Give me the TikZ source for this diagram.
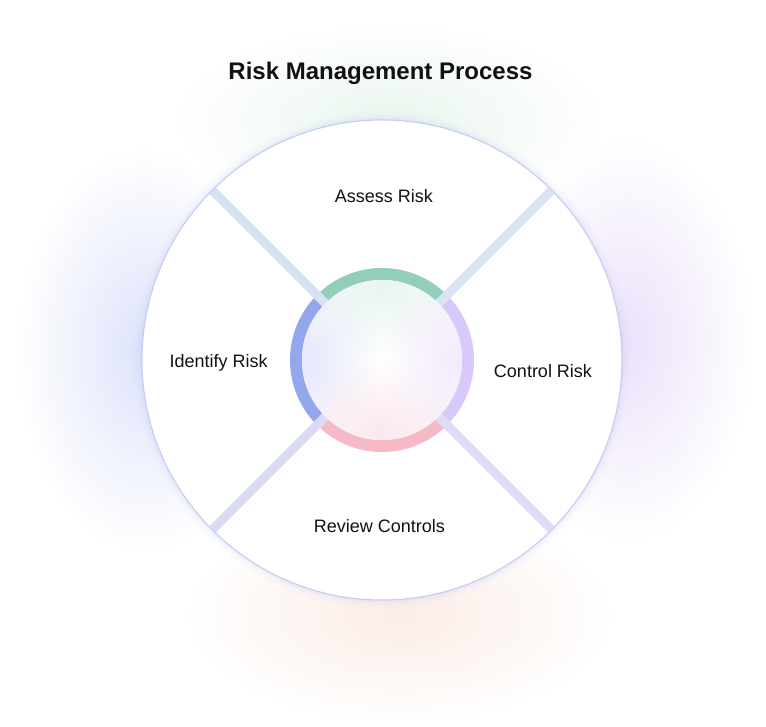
\documentclass[tikz,border=0pt]{standalone}
\usepackage{fontspec}
\setmainfont{Liberation Sans}
\usetikzlibrary{fadings}
\tikzfading[name=glowfade, inner color=transparent!0, outer color=transparent!100]
\definecolor{txt}{HTML}{111111}
\definecolor{glowgreen}{HTML}{EAF6EE}
\definecolor{glowblue}{HTML}{DEE3FB}
\definecolor{glowpurple}{HTML}{ECE1FB}
\definecolor{glowpeach}{HTML}{FCECE6}
\definecolor{rimcol}{HTML}{C3CBF2}
\definecolor{shadowcol}{HTML}{B8C0F0}
\definecolor{bandTL}{HTML}{D6E1F1}
\definecolor{bandTR}{HTML}{DAE2F4}
\definecolor{bandBL}{HTML}{D9DCF4}
\definecolor{bandBR}{HTML}{DFDCF6}
\definecolor{ringgreen}{HTML}{92CEB9}
\definecolor{ringblue}{HTML}{95A7EC}
\definecolor{ringpink}{HTML}{F6B9C6}
\definecolor{ringlav}{HTML}{D9C9F9}
\definecolor{inmint}{HTML}{E8F6EF}
\definecolor{inblue}{HTML}{E6E9FB}
\definecolor{inpink}{HTML}{FCE8EC}
\definecolor{inlav}{HTML}{F3EAFC}
\tikzset{
  titlestyle/.style={font=\fontsize{24}{28}\selectfont\bfseries, text=txt, inner sep=0pt},
  labelstyle/.style={font=\fontsize{18}{22}\selectfont, text=txt, inner sep=0pt},
  bandline/.style={line width=9pt, line cap=butt},
  ringarc/.style={line width=12pt, line cap=butt},
}
\begin{document}
\begin{tikzpicture}[x=1pt,y=1pt]
\useasboundingbox (-382,-367) rectangle (384,360);
\fill[white] (-382,-367) rectangle (384,360);
% soft glows
\fill[glowgreen, path fading=glowfade] (8,238) ellipse (210 and 95);
\fill[glowblue, path fading=glowfade] (-238,10) ellipse (125 and 200);
\fill[glowpurple, path fading=glowfade] (245,20) ellipse (125 and 200);
\fill[glowpeach, path fading=glowfade] (18,-255) ellipse (210 and 105);
% halo around circle
\foreach \w/\o in {16/0.04, 10/0.05, 6/0.07, 3/0.1}
  \draw[shadowcol, line width=\w pt, opacity=\o] (0,0) circle (240);
% main disc
\fill[white] (0,0) circle (240);
\draw[rimcol, line width=1pt] (0,0) circle (240);
% ring segments
\draw[ringgreen, ringarc] (45:86) arc (45:135:86);
\draw[ringblue, ringarc] (135:86) arc (135:225:86);
\draw[ringpink, ringarc] (225:86) arc (225:315:86);
\draw[ringlav, ringarc] (315:86) arc (315:405:86);
% bands between sectors
\draw[bandTL, bandline] (135:74) -- (135:239.5);
\draw[bandTR, bandline] (45:74) -- (45:239.5);
\draw[bandBL, bandline] (225:74) -- (225:239.5);
\draw[bandBR, bandline] (315:74) -- (315:239.5);
% inner disc
\begin{scope}
\clip (0,0) circle (80);
\fill[white] (0,0) circle (80);
\fill[inmint, path fading=glowfade] (0,72) ellipse (100 and 70);
\fill[inblue, path fading=glowfade] (-72,0) ellipse (70 and 100);
\fill[inpink, path fading=glowfade] (0,-72) ellipse (100 and 70);
\fill[inlav, path fading=glowfade] (72,0) ellipse (70 and 100);
\end{scope}
% texts
\node[titlestyle, anchor=base] (title) at (-1.5,280) {Risk Management Process};
\node[labelstyle, anchor=base] (assess) at (1.8,157.3) {Assess Risk};
\node[labelstyle, anchor=base] (identify) at (-163.3,-7.3) {Identify Risk};
\node[labelstyle, anchor=base] (control) at (161,-17.3) {Control Risk};
\node[labelstyle, anchor=base] (review) at (-2.5,-172.7) {Review Controls};
\end{tikzpicture}
\end{document}
